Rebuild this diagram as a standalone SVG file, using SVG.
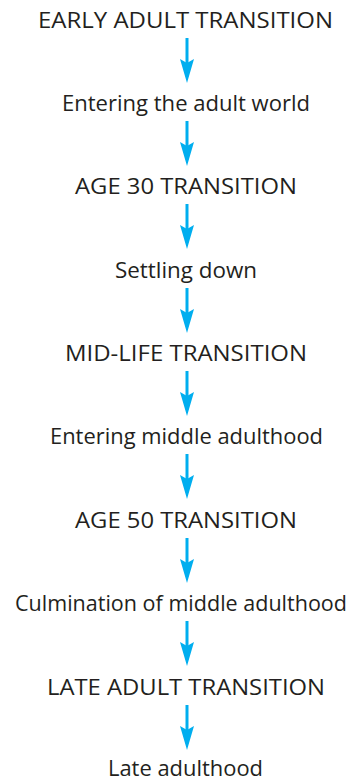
<svg xmlns="http://www.w3.org/2000/svg" width="361" height="781" viewBox="0 0 361 781">
  <style>
    .lbl { font-family: "Open Sans", "Noto Sans", sans-serif; font-size: 22px; fill: #231f20; text-anchor: middle; }
    .arrow { stroke: #00aeef; stroke-width: 3; fill: none; }
    .head { fill: #00aeef; }
  </style>
  <defs>
    <!-- one downward arrow, origin at the baseline of the label above it -->
    <g id="down">
      <line class="arrow" x1="0" y1="10" x2="0" y2="36"/>
      <path class="head" d="M -7 31 L 0 35 L 7 31 L 0 55 Z"/>
    </g>
  </defs>
  <rect width="361" height="781" fill="#ffffff"/>

  <g id="connectors">
    <use href="#down" x="187" y="28"/>
    <use href="#down" x="187" y="111"/>
    <use href="#down" x="187" y="194"/>
    <use href="#down" x="187" y="278"/>
    <use href="#down" x="187" y="361"/>
    <use href="#down" x="187" y="444"/>
    <use href="#down" x="187" y="528"/>
    <use href="#down" x="187" y="611"/>
    <use href="#down" x="187" y="695"/>
  </g>

  <g id="early-adult-transition"><text class="lbl" x="185.5" y="28" textLength="295" lengthAdjust="spacingAndGlyphs">EARLY ADULT TRANSITION</text></g>
  <g id="entering-adult-world"><text class="lbl" x="186" y="111" textLength="248" lengthAdjust="spacingAndGlyphs">Entering the adult world</text></g>
  <g id="age-30-transition"><text class="lbl" x="186" y="194" textLength="222" lengthAdjust="spacingAndGlyphs">AGE 30 TRANSITION</text></g>
  <g id="settling-down"><text class="lbl" x="186" y="278" textLength="142" lengthAdjust="spacingAndGlyphs">Settling down</text></g>
  <g id="mid-life-transition"><text class="lbl" x="186" y="361" textLength="242" lengthAdjust="spacingAndGlyphs">MID-LIFE TRANSITION</text></g>
  <g id="entering-middle-adulthood"><text class="lbl" x="186.5" y="444" textLength="273" lengthAdjust="spacingAndGlyphs">Entering middle adulthood</text></g>
  <g id="age-50-transition"><text class="lbl" x="186" y="528" textLength="222" lengthAdjust="spacingAndGlyphs">AGE 50 TRANSITION</text></g>
  <g id="culmination-middle-adulthood"><text class="lbl" x="181" y="611" textLength="332" lengthAdjust="spacingAndGlyphs">Culmination of middle adulthood</text></g>
  <g id="late-adult-transition"><text class="lbl" x="186" y="695" textLength="278" lengthAdjust="spacingAndGlyphs">LATE ADULT TRANSITION</text></g>
  <g id="late-adulthood"><text class="lbl" x="185.5" y="776" textLength="155" lengthAdjust="spacingAndGlyphs">Late adulthood</text></g>
</svg>
